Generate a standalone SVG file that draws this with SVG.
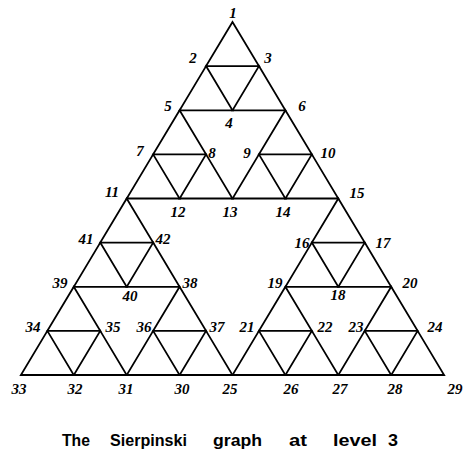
<svg xmlns="http://www.w3.org/2000/svg" width="463" height="457" viewBox="0 0 463 457">
<style>
.e{fill:none;stroke:#000;stroke-width:1.8;stroke-linejoin:miter}
.n{font-family:"Liberation Serif","Times New Roman",serif;font-size:15px;font-weight:bold;font-style:italic;text-anchor:middle;fill:#000}
.c{font-family:"Liberation Sans",Arial,sans-serif;font-size:17px;font-weight:bold;fill:#000}
</style>
<rect width="463" height="457" fill="#fff"/>
<g id="connectors">
<polygon class="e" points="232.5,22 206.05,66.1 258.95,66.1"/>
<polygon class="e" points="206.05,66.1 179.6,110.3 232.5,110.3"/>
<polygon class="e" points="258.95,66.1 232.5,110.3 285.4,110.3"/>
<polygon class="e" points="179.6,110.3 153.15,154.4 206.05,154.4"/>
<polygon class="e" points="285.4,110.3 258.95,154.4 311.85,154.4"/>
<polygon class="e" points="153.15,154.4 126.7,198.5 179.6,198.5"/>
<polygon class="e" points="206.05,154.4 179.6,198.5 232.5,198.5"/>
<polygon class="e" points="258.95,154.4 232.5,198.5 285.4,198.5"/>
<polygon class="e" points="311.85,154.4 285.4,198.5 338.3,198.5"/>
<polygon class="e" points="126.7,198.5 100.25,242.6 153.15,242.6"/>
<polygon class="e" points="338.3,198.5 311.85,242.6 364.75,242.6"/>
<polygon class="e" points="100.25,242.6 73.8,286.8 126.7,286.8"/>
<polygon class="e" points="153.15,242.6 126.7,286.8 179.6,286.8"/>
<polygon class="e" points="311.85,242.6 285.4,286.8 338.3,286.8"/>
<polygon class="e" points="364.75,242.6 338.3,286.8 391.2,286.8"/>
<polygon class="e" points="73.8,286.8 47.35,330.9 100.25,330.9"/>
<polygon class="e" points="179.6,286.8 153.15,330.9 206.05,330.9"/>
<polygon class="e" points="285.4,286.8 258.95,330.9 311.85,330.9"/>
<polygon class="e" points="391.2,286.8 364.75,330.9 417.65,330.9"/>
<polygon class="e" points="47.35,330.9 20.9,375 73.8,375"/>
<polygon class="e" points="100.25,330.9 73.8,375 126.7,375"/>
<polygon class="e" points="153.15,330.9 126.7,375 179.6,375"/>
<polygon class="e" points="206.05,330.9 179.6,375 232.5,375"/>
<polygon class="e" points="258.95,330.9 232.5,375 285.4,375"/>
<polygon class="e" points="311.85,330.9 285.4,375 338.3,375"/>
<polygon class="e" points="364.75,330.9 338.3,375 391.2,375"/>
<polygon class="e" points="417.65,330.9 391.2,375 444.1,375"/>
</g>
<g id="n1"><text class="n" x="233" y="18">1</text></g>
<g id="n2"><text class="n" x="193" y="63">2</text></g>
<g id="n3"><text class="n" x="268" y="63">3</text></g>
<g id="n4"><text class="n" x="229" y="128">4</text></g>
<g id="n5"><text class="n" x="168" y="111">5</text></g>
<g id="n6"><text class="n" x="302" y="111">6</text></g>
<g id="n7"><text class="n" x="140" y="156">7</text></g>
<g id="n8"><text class="n" x="212" y="158">8</text></g>
<g id="n9"><text class="n" x="247" y="158">9</text></g>
<g id="n10"><text class="n" x="328" y="158">10</text></g>
<g id="n11"><text class="n" x="112" y="197">11</text></g>
<g id="n12"><text class="n" x="178" y="217">12</text></g>
<g id="n13"><text class="n" x="230" y="217">13</text></g>
<g id="n14"><text class="n" x="283" y="217">14</text></g>
<g id="n15"><text class="n" x="357" y="198">15</text></g>
<g id="n16"><text class="n" x="302" y="248">16</text></g>
<g id="n17"><text class="n" x="383" y="248">17</text></g>
<g id="n18"><text class="n" x="338" y="300">18</text></g>
<g id="n19"><text class="n" x="275" y="288">19</text></g>
<g id="n20"><text class="n" x="410" y="288">20</text></g>
<g id="n21"><text class="n" x="247" y="332">21</text></g>
<g id="n22"><text class="n" x="325" y="332">22</text></g>
<g id="n23"><text class="n" x="356" y="332">23</text></g>
<g id="n24"><text class="n" x="435" y="332">24</text></g>
<g id="n25"><text class="n" x="230" y="394">25</text></g>
<g id="n26"><text class="n" x="291" y="394">26</text></g>
<g id="n27"><text class="n" x="340" y="394">27</text></g>
<g id="n28"><text class="n" x="395" y="394">28</text></g>
<g id="n29"><text class="n" x="455" y="394">29</text></g>
<g id="n30"><text class="n" x="182" y="394">30</text></g>
<g id="n31"><text class="n" x="126" y="394">31</text></g>
<g id="n32"><text class="n" x="75" y="394">32</text></g>
<g id="n33"><text class="n" x="19" y="394">33</text></g>
<g id="n34"><text class="n" x="33" y="332">34</text></g>
<g id="n35"><text class="n" x="113" y="332">35</text></g>
<g id="n36"><text class="n" x="144" y="332">36</text></g>
<g id="n37"><text class="n" x="217" y="332">37</text></g>
<g id="n38"><text class="n" x="190" y="288">38</text></g>
<g id="n39"><text class="n" x="60" y="288">39</text></g>
<g id="n40"><text class="n" x="130" y="301">40</text></g>
<g id="n41"><text class="n" x="86" y="244">41</text></g>
<g id="n42"><text class="n" x="163" y="244">42</text></g>
<g id="caption">
<text class="c" x="62" y="446" textLength="28" lengthAdjust="spacingAndGlyphs">The</text>
<text class="c" x="110" y="446" textLength="77" lengthAdjust="spacingAndGlyphs">Sierpinski</text>
<text class="c" x="213" y="446" textLength="49" lengthAdjust="spacingAndGlyphs">graph</text>
<text class="c" x="289" y="446" textLength="18" lengthAdjust="spacingAndGlyphs">at</text>
<text class="c" x="333" y="446" textLength="44" lengthAdjust="spacingAndGlyphs">level</text>
<text class="c" x="388" y="446" textLength="10" lengthAdjust="spacingAndGlyphs">3</text>
</g>
</svg>
